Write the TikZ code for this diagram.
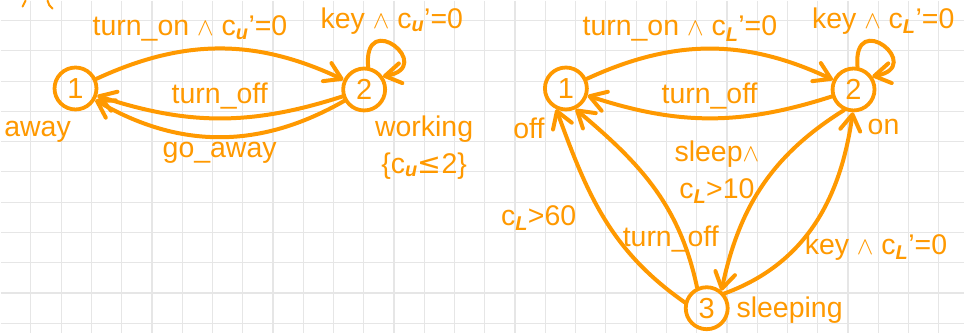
\documentclass[tikz,border=0pt]{standalone}
\usepackage{fontspec}
\setmainfont{Liberation Sans}
\newfontfamily\symfont{DejaVu Sans}
\usepackage{tikz}
\usetikzlibrary{arrows.meta}
\definecolor{PenOrange}{HTML}{FF9900}
\definecolor{GridGrey}{HTML}{E6E6E6}
\newcommand{\clku}{c\textsubscript{\textbf{\textit{u}}}}
\newcommand{\clkL}{c\textsubscript{\textbf{\textit{L}}}}
\newcommand{\wdg}{\ensuremath{\wedge}}
\newcommand{\leqs}{{\symfont ≤}}

\begin{document}
\begin{tikzpicture}[x=1pt, y=1pt,
  state/.style={draw=PenOrange, circle, line width=3.8pt, minimum size=42pt,
                inner sep=0pt, font=\fontsize{29}{34}\selectfont, text=PenOrange},
  arrow/.style={-{Straight Barb[length=16pt,width=20pt,round]}, line width=4pt,
                draw=PenOrange, line cap=round},
  tag/.style={font=\fontsize{28.5}{37}\selectfont, text=PenOrange, inner sep=1pt, align=center},
  gridline/.style={draw=GridGrey, line width=1.2pt},
  pen/.style={draw=PenOrange, line width=2pt, line cap=round}
]
  \fill[white] (0,0) rectangle (965,-333);
  \foreach \i in {1,...,31} \draw[gridline] (\i*30.3,0) -- (\i*30.3,-333);
  \foreach \j in {0,...,10} \draw[gridline] (0,-20-\j*30.3) -- (965,-20-\j*30.3);
  \useasboundingbox (0,0) rectangle (965,-333);

  \draw[pen] (22,-6) -- (25,0);
  \draw[pen] (47,0) to[bend right=20] (52,-8);

  \node[state] (u1) at (75,-88)  {1};
  \node[state] (u2) at (364,-89) {2};
  \node[tag] (away)    at (37,-131)  {away};
  \node[tag] (working) at (424,-147) {working\\\{\clku\leqs2\}};

  \draw[arrow] (u1) to[bend left=25] node[tag, xshift=-30pt, yshift=20pt]{turn\_on \wdg\ \clku’=0} (u2);
  \draw[arrow] (u2) to[bend left=18] node[tag, yshift=22pt]{turn\_off} (u1);
  \draw[arrow] (u2) to[bend left=30] node[tag, yshift=-16pt]{go\_away} (u1);
  \draw[arrow] (u2.80) .. controls +(95:60) and +(10:55) .. (u2.35)
    node[tag, midway, xshift=-2pt, yshift=25pt]{key \wdg\ \clku’=0};

  \node[state] (l1) at (566,-88)  {1};
  \node[state] (l2) at (854,-89)  {2};
  \node[state] (l3) at (707,-308) {3};
  \node[tag] (off)      at (529,-128) {off};
  \node[tag] (on)       at (884,-127) {on};
  \node[tag] (sleeping) at (790,-310) {sleeping};

  \draw[arrow] (l1) to[bend left=25] node[tag, xshift=-30pt, yshift=20pt]{turn\_on \wdg\ \clkL’=0} (l2);
  \draw[arrow] (l2) to[bend left=18] node[tag, yshift=22pt]{turn\_off} (l1);
  \draw[arrow] (l2.80) .. controls +(95:60) and +(10:55) .. (l2.35)
    node[tag, midway, yshift=25pt]{key \wdg\ \clkL’=0};
  \draw[arrow] (l2.245) to[out=212, in=78] node[tag, left=0pt, yshift=14pt]{sleep\wdg\\\clkL>10} (l3.50);
  \draw[arrow] (l3.40) to[out=20, in=262] node[tag, pos=0.35, anchor=west, xshift=8pt, yshift=3pt]{key \wdg\ \clkL’=0} (l2.268);
  \draw[arrow] (l3.115) to[out=102, in=-40] node[tag, pos=0.25, xshift=-9pt, yshift=-7pt]{turn\_off} (l1.-65);
  \draw[arrow] (l3.165) to[out=145, in=-70] node[tag, left=25pt]{\clkL>60} (l1.-115);
\end{tikzpicture}
\end{document}
